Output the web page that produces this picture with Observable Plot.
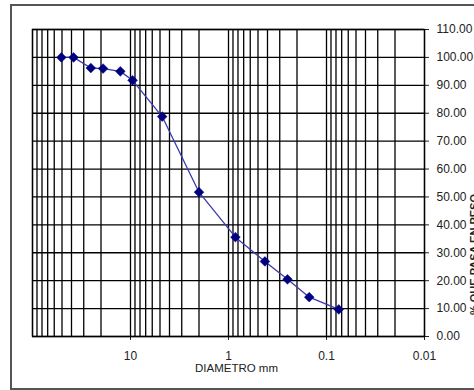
<!DOCTYPE html>
<html>
<head>
<meta charset="utf-8">
<script src="https://cdn.jsdelivr.net/npm/d3@7"></script>
<script src="https://cdn.jsdelivr.net/npm/@observablehq/plot@0.6"></script>
<style>
  html, body { margin: 0; padding: 0; background: #fff; overflow: hidden; }
  #wrap { position: relative; width: 474px; height: 390px; }
  #border { position: absolute; left: 10px; top: 4px; width: 520px; height: 382px;
            border: 2px solid #555; box-sizing: content-box; }
  #chart { position: absolute; left: 0; top: 0; }
</style>
</head>
<body>
<div id="wrap"><div id="border"></div><div id="chart"></div></div>
<script>
// Diameter (mm) of sieve openings and % passing by weight
const diametro = [50.8, 38.1, 25.4, 19.05, 12.7, 9.525, 4.75, 2.0, 0.85, 0.425, 0.25, 0.15, 0.075];
const pasa     = [100, 100, 96.2, 96, 95, 91.8, 78.8, 51.7, 35.6, 26.9, 20.5, 14.1, 9.7];

const xTickValues = [10, 1, 0.1, 0.01];
const xTickLabels = ["10", "1", "0.1", "0.01"];
const yTickValues = [0, 10, 20, 30, 40, 50, 60, 70, 80, 90, 100, 110];
const xLabel = "DIAMETRO mm";
const yLabel = "% QUE PASA EN PESO";

const data = diametro.map((d, i) => ({d, p: pasa[i]}));

// logarithmic grid lines: 1..9 × each decade from 0.01 to 100
const decades = [0.01, 0.1, 1, 10];
const xGrid = [100];
for (const dec of decades) for (let k = 1; k <= 9; k++) xGrid.push(+(k * dec).toPrecision(3));

const chart = Plot.plot({
  width: 474,
  height: 390,
  marginLeft: 32,
  marginRight: 50,
  marginTop: 29,
  marginBottom: 54,
  style: {fontFamily: "'Liberation Sans', Arial, sans-serif", fontSize: "12px", color: "#222", background: "transparent", overflow: "visible"},
  x: {type: "log", domain: [100, 0.01], ticks: xTickValues,
      tickFormat: d => xTickLabels[xTickValues.indexOf(d)] ?? "", tickSize: 4, tickPadding: 11, label: null},
  y: {domain: [0, 110], ticks: yTickValues, tickFormat: d => d.toFixed(2),
      axis: "right", tickSize: 4, tickPadding: 8, label: null},
  marks: [
    Plot.ruleX(xGrid, {stroke: "#000", strokeWidth: 1.3}),
    Plot.ruleY(yTickValues, {stroke: "#000", strokeWidth: 1.3}),
    Plot.frame({stroke: "#000", strokeWidth: 1.3}),
    Plot.line(data, {x: "d", y: "p", stroke: "#3a3aae", strokeWidth: 1.3}),
    Plot.dot(data, {x: "d", y: "p", symbol: "diamond2", r: 4.4, fill: "#000080", stroke: "#000080", strokeWidth: 0.5}),
    Plot.text([xLabel], {frameAnchor: "bottom", dx: 8, dy: 35, fontSize: 11.5, fill: "#222"}),
    Plot.text([yLabel], {frameAnchor: "right", dx: 50, dy: 11, rotate: -90, fontSize: 11, fontWeight: "bold", fill: "#222"})
  ]
});
document.getElementById("chart").appendChild(chart);
</script>
</body>
</html>
